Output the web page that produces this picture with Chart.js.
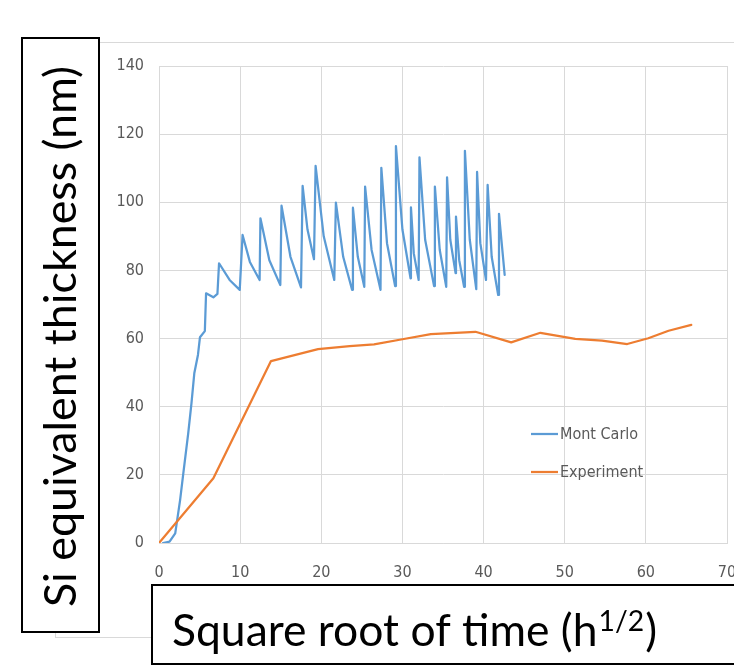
<!DOCTYPE html>
<html>
<head>
<meta charset="utf-8">
<title>Si equivalent thickness</title>
<script src="https://cdn.jsdelivr.net/npm/chart.js@4.4.1/dist/chart.umd.min.js"></script>
<style>
    html, body { margin: 0; padding: 0; background: #fff; }
    #thicknessChart { display: block; }
</style>
</head>
<body>
<canvas id="thicknessChart" width="734" height="668"></canvas>
<script>
// Monte Carlo run: sqrt(time) vs thickness
const mcX = [0.5, 1.3, 2.0, 2.6, 3.0, 3.6, 4.0, 4.35, 4.8, 5.05, 5.65, 5.8, 6.7, 7.2, 7.4, 8.7, 9.95,
    10.3, 11.2, 12.4, 12.5, 13.6, 14.95, 15.1, 16.2, 17.5, 17.7, 18.3, 19.1, 19.3, 20.3, 21.6,
    21.8, 22.7, 23.8, 23.9, 24.5, 25.3, 25.4, 26.2, 27.3, 27.4, 28.1, 29.1, 29.2, 30.0, 31.0,
    31.05, 31.4, 32.0, 32.1, 32.8, 33.9, 34.0, 34.6, 35.4, 35.5, 35.9, 36.55, 36.6, 37.0, 37.6,
    37.7, 38.3, 39.1, 39.2, 39.6, 40.3, 40.5, 41.0, 41.8, 41.9, 42.6];
const mcY = [0, 0.4, 2.8, 12.6, 20.5, 32.2, 41.0, 49.8, 55.2, 60.4, 62.2, 73.3, 72.1, 73.1, 82.1, 77.2, 74.3,
    90.4, 82.5, 77.2, 95.3, 83, 75.7, 99.0, 84, 75.0, 104.8, 92, 83.3, 110.7, 90, 77.2,
    99.9, 84, 74.3, 98.4, 84, 75.2, 104.6, 86, 74.3, 110.1, 88, 75.4, 116.5, 92, 77.7,
    98.5, 85, 77.2, 113.2, 89, 75.4, 104.6, 86, 75.2, 107.3, 89, 79.2, 95.8, 83, 75.2,
    115.1, 89, 74.5, 108.9, 88, 77.2, 105.1, 84, 72.8, 96.6, 78.7];

// Experimental measurements
const expX = [0, 6.7, 13.8, 19.6, 23.5, 26.5, 30.0, 33.5, 39.0, 43.4, 47.0, 51.3, 54.6, 57.7, 60.3, 62.8, 65.6];
const expY = [0, 19.0, 53.4, 56.9, 57.8, 58.3, 59.8, 61.3, 62.0, 58.9, 61.7, 59.9, 59.4, 58.4, 60.1, 62.3, 64.0];

const seriesNames = ['Mont Carlo', 'Experiment'];
const seriesColors = ['#5B9BD5', '#ED7D31'];

const xTitle = 'Square root of time (h';
const xTitleSup = '1/2';
const yTitle = 'Si equivalent thickness (nm)';

const tickFont = "'Liberation Sans Narrow', 'DejaVu Sans Condensed', sans-serif";
const titleFont = "Lato, 'Open Sans', sans-serif";

function toPoints(xs, ys) {
    return xs.map((x, i) => ({ x: x, y: ys[i] }));
}

// frame around the chart area plus the two boxed axis titles and the legend
const decorations = {
    id: 'decorations',
    beforeDraw(chart) {
        const ctx = chart.ctx;
        ctx.save();
        ctx.strokeStyle = '#d9d9d9';
        ctx.lineWidth = 1;
        ctx.strokeRect(55.5, 42.5, 700, 595);
        ctx.restore();
    },
    afterDraw(chart) {
        const ctx = chart.ctx;
        ctx.save();

        // legend
        ctx.font = '16px ' + tickFont;
        ctx.textBaseline = 'middle';
        ctx.textAlign = 'left';
        const legendY = [434, 472];
        chart.data.datasets.forEach((ds, i) => {
            ctx.strokeStyle = ds.borderColor;
            ctx.lineWidth = 2.25;
            ctx.beginPath();
            ctx.moveTo(531, legendY[i]);
            ctx.lineTo(558, legendY[i]);
            ctx.stroke();
            ctx.fillStyle = '#595959';
            ctx.fillText(ds.label, 560, legendY[i] + 1);
        });

        // y title box
        ctx.fillStyle = '#fff';
        ctx.fillRect(22, 38, 77, 594);
        ctx.strokeStyle = '#000';
        ctx.lineWidth = 2;
        ctx.strokeRect(22, 38, 77, 594);

        ctx.fillStyle = '#000';
        ctx.textBaseline = 'alphabetic';
        ctx.font = '44px ' + titleFont;
        let w = ctx.measureText(yTitle).width;
        ctx.save();
        ctx.translate(76, 607);
        ctx.rotate(-Math.PI / 2);
        ctx.scale(541 / w, 1);
        ctx.fillText(yTitle, 0, 0);
        ctx.restore();

        // x title box
        ctx.fillStyle = '#fff';
        ctx.fillRect(152, 585, 600, 79);
        ctx.strokeRect(152, 585, 600, 79);

        ctx.fillStyle = '#000';
        ctx.font = '44px ' + titleFont;
        const mainW = ctx.measureText(xTitle).width;
        const closeW = ctx.measureText(')').width;
        ctx.font = '28px ' + titleFont;
        const supW = ctx.measureText(xTitleSup).width;
        const k = 485 / (mainW + supW + closeW + 2);
        ctx.save();
        ctx.translate(172, 646);
        ctx.scale(k, 1);
        ctx.font = '44px ' + titleFont;
        ctx.fillText(xTitle, 0, 0);
        ctx.font = '28px ' + titleFont;
        ctx.fillText(xTitleSup, mainW + 1, -15);
        ctx.font = '44px ' + titleFont;
        ctx.fillText(')', mainW + supW + 2, 0);
        ctx.restore();

        ctx.restore();
    }
};

const ctx = document.getElementById('thicknessChart').getContext('2d');
const thicknessChart = new Chart(ctx, {
    type: 'line',
    data: {
        datasets: [{
            label: seriesNames[0],
            data: toPoints(mcX, mcY),
            borderColor: seriesColors[0],
            backgroundColor: seriesColors[0],
            borderWidth: 2.25,
            pointRadius: 0,
            tension: 0,
            borderJoinStyle: 'round',
            borderCapStyle: 'round',
            order: 1
        }, {
            label: seriesNames[1],
            data: toPoints(expX, expY),
            borderColor: seriesColors[1],
            backgroundColor: seriesColors[1],
            borderWidth: 2.25,
            pointRadius: 0,
            tension: 0,
            borderJoinStyle: 'round',
            borderCapStyle: 'round',
            order: 0
        }]
    },
    options: {
        responsive: false,
        animation: false,
        devicePixelRatio: 1,
        layout: { padding: { left: 0, top: 66, right: 7, bottom: 0 } },
        plugins: {
            legend: { display: false },
            tooltip: { enabled: false }
        },
        scales: {
            x: {
                type: 'linear',
                min: 0,
                max: 70,
                ticks: {
                    stepSize: 10,
                    padding: 0,
                    color: '#595959',
                    font: { family: tickFont, size: 16 },
                    maxRotation: 0
                },
                // invisible tick marks push the labels down without widening the side padding
                grid: { color: '#d9d9d9', lineWidth: 1, drawTicks: true, tickLength: 20, tickColor: 'rgba(0,0,0,0)' },
                border: { color: '#d9d9d9' },
                afterFit(scale) {
                    scale.height = 125;
                    // let the last label run off the canvas edge
                    scale.paddingRight = 0;
                }
            },
            y: {
                min: 0,
                max: 140,
                ticks: {
                    stepSize: 20,
                    padding: 15,
                    color: '#595959',
                    font: { family: tickFont, size: 16 }
                },
                grid: { color: '#d9d9d9', lineWidth: 1, drawTicks: false },
                border: { color: '#d9d9d9' },
                afterFit(scale) { scale.width = 159; }
            }
        }
    },
    plugins: [decorations]
});
</script>
</body>
</html>
